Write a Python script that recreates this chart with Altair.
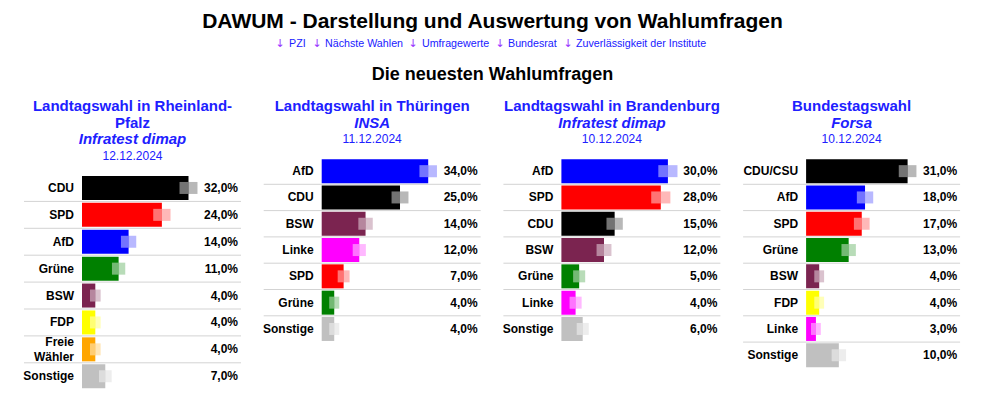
import altair as alt
import pandas as pd

# ---------------- data ----------------
main_title = "DAWUM - Darstellung und Auswertung von Wahlumfragen"
links = ["PZI", "Nächste Wahlen", "Umfragewerte", "Bundesrat", "Zuverlässigkeit der Institute"]
section_title = "Die neuesten Wahlumfragen"

titles = [["Landtagswahl in Rheinland-", "Pfalz"], ["Landtagswahl in Thüringen"],
          ["Landtagswahl in Brandenburg"], ["Bundestagswahl"]]
institutes = ["Infratest dimap", "INSA", "Infratest dimap", "Forsa"]
dates = ["12.12.2024", "11.12.2024", "10.12.2024", "10.12.2024"]

parties_rp = ["CDU", "SPD", "AfD", "Grüne", "BSW", "FDP", "Freie Wähler", "Sonstige"]
values_rp = [32, 24, 14, 11, 4, 4, 4, 7]
margins_rp = [2.7, 2.6, 2.3, 2.0, 1.6, 1.6, 1.6, 1.9]

parties_th = ["AfD", "CDU", "BSW", "Linke", "SPD", "Grüne", "Sonstige"]
values_th = [34, 25, 14, 12, 7, 4, 4]
margins_th = [2.8, 2.7, 2.3, 2.1, 1.9, 1.6, 1.6]

parties_bb = ["AfD", "SPD", "CDU", "BSW", "Grüne", "Linke", "Sonstige"]
values_bb = [30, 28, 15, 12, 5, 4, 6]
margins_bb = [2.7, 2.7, 2.3, 2.1, 1.7, 1.7, 1.7]

parties_bt = ["CDU/CSU", "AfD", "SPD", "Grüne", "BSW", "FDP", "Linke", "Sonstige"]
values_bt = [31, 18, 17, 13, 4, 4, 3, 10]
margins_bt = [2.7, 2.5, 2.4, 2.2, 1.5, 1.5, 1.5, 2.2]

party_colors = {
    "CDU": "#000000", "CDU/CSU": "#000000", "SPD": "#ff0000", "AfD": "#0000ff",
    "Grüne": "#008000", "BSW": "#7b2450", "FDP": "#ffff00", "Freie Wähler": "#ffa500",
    "Linke": "#ff00ff", "Sonstige": "#c0c0c0",
}

# ---------------- layout constants ----------------
FONT = "Liberation Sans"
PW = 217          # panel width
GAP = 23
TOTAL_W = 4 * PW + 3 * GAP
BLUE = "#2020ff"
ARROW = "#9933ff"
dummy = pd.DataFrame({"a": [0]})


def txt(s, x, y, size, weight="normal", style="normal", color="black", align="center", font=FONT):
    return alt.Chart(dummy).mark_text(
        text=s, font=font, fontSize=size, fontWeight=weight, fontStyle=style,
        color=color, align=align, baseline="middle"
    ).encode(x=alt.value(x), y=alt.value(y))


def frame(w, h):
    return alt.Chart(dummy).mark_rect(color="white", opacity=1).encode(
        x=alt.value(0), x2=alt.value(w), y=alt.value(0), y2=alt.value(h))


# top header
TOP_H = 90
arrow_x = [279 - 23, 316 - 23, 412 - 23, 499 - 23, 567 - 23]
link_x = [288 - 23, 324 - 23, 421 - 23, 507 - 23, 575 - 23]
hdr_layers = [frame(TOTAL_W, TOP_H),
              txt(main_title, TOTAL_W / 2, 14, 21, weight="bold"),
              txt(section_title, TOTAL_W / 2, 67, 18, weight="bold")]
for s, ax, lx in zip(links, arrow_x, link_x):
    hdr_layers.append(txt("↓", ax, 36, 11, color=ARROW, font="DejaVu Sans"))
    hdr_layers.append(txt(s, lx, 36, 10.7, color=BLUE, align="left"))
top_header = alt.layer(*hdr_layers).properties(width=TOTAL_W, height=TOP_H)


def panel(title_lines, inst, date, parties, values, margins, step, label_right):
    # ----- head texts -----
    head = []
    y = 8
    LH = 16.5
    for line in title_lines:
        head.append(txt(line, PW / 2, y, 15, weight="bold", color=BLUE))
        y += LH
    head.append(txt(inst, PW / 2, y, 15, weight="bold", style="italic", color=BLUE))
    y += LH
    head.append(txt(date, PW / 2, y, 12, color=BLUE))
    head_h = y + 19
    body_h = step * len(parties)

    # ----- body -----
    df = pd.DataFrame({"party": parties, "value": values, "margin": margins})
    df["lo"] = df["value"] - df["margin"]
    df["hi"] = df["value"] + df["margin"]
    df["vlabel"] = df["value"].map(lambda v: f"{v:.1f}".replace(".", ",") + "%")
    df["color"] = df["party"].map(party_colors)
    df["idx"] = range(len(df))
    bar_start = label_right + 8
    yscale = alt.Scale(domain=parties, range=[head_h, head_h + body_h],
                       paddingInner=0, paddingOuter=0)
    xscale = alt.Scale(domain=[0, max(values)], range=[bar_start, 164.5])
    base = alt.Chart(df)
    y = alt.Y("party:N", scale=yscale, axis=None)

    rules = base.transform_filter("datum.idx > 0").mark_rule(
        color="#d3d3d3", strokeWidth=1
    ).encode(y=alt.Y("party:N", scale=yscale, axis=None, bandPosition=0),
             x=alt.value(0), x2=alt.value(PW))
    bars = base.mark_bar(height=24).encode(
        y=y, x=alt.X("value:Q", scale=xscale, axis=None),
        color=alt.Color("color:N", scale=None))
    ci = base.mark_bar(height=12, opacity=0.28).encode(
        y=y, x=alt.X("lo:Q", scale=xscale, axis=None), x2="hi:Q",
        color=alt.Color("color:N", scale=None))
    white = base.mark_bar(height=12, opacity=0.45, color="white").encode(
        y=y, x=alt.X("lo:Q", scale=xscale, axis=None), x2="value:Q")
    names1 = base.transform_filter("indexof(datum.party, ' ') < 0").mark_text(
        align="right", baseline="middle", font=FONT, fontSize=12, fontWeight="bold"
    ).encode(y=y, x=alt.value(label_right), text="party:N")
    names2 = base.transform_filter("indexof(datum.party, ' ') >= 0").mark_text(
        align="right", baseline="middle", font=FONT, fontSize=12, fontWeight="bold",
        lineBreak=" ", lineHeight=15, dy=-7.5
    ).encode(y=y, x=alt.value(label_right), text="party:N")
    vals = base.mark_text(align="right", baseline="middle", font=FONT, fontSize=12,
                          fontWeight="bold").encode(
        y=y, x=alt.value(214), text="vlabel:N")
    return alt.layer(*head, rules, bars, ci, white, names1, names2, vals).properties(
        width=PW, height=head_h + body_h)


panels = [
    panel(titles[0], institutes[0], dates[0], parties_rp, values_rp, margins_rp, 26.9, 50),
    panel(titles[1], institutes[1], dates[1], parties_th, values_th, margins_th, 26.3, 50),
    panel(titles[2], institutes[2], dates[2], parties_bb, values_bb, margins_bb, 26.3, 50),
    panel(titles[3], institutes[3], dates[3], parties_bt, values_bt, margins_bt, 26.3, 55),
]

chart = alt.vconcat(top_header, alt.hconcat(*panels, spacing=20.7), spacing=0).properties(
    padding={"left": 15, "top": 0, "right": 5, "bottom": 5}
).configure_view(stroke=None)

chart.save("out.html", embed_options={"renderer": "svg", "actions": False})
